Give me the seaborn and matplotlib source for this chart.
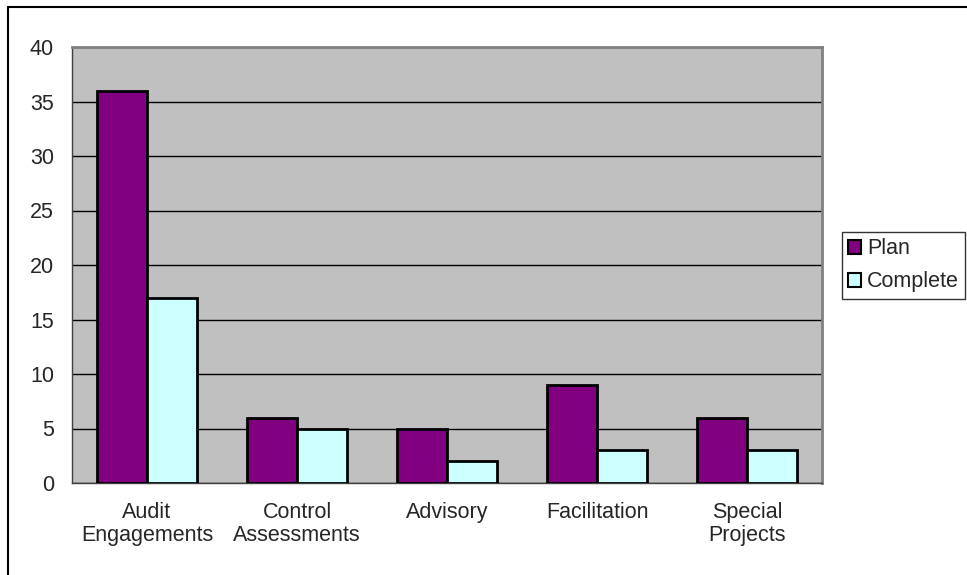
import pandas as pd
import numpy as np
import matplotlib
matplotlib.use("Agg")
import matplotlib.pyplot as plt
import seaborn as sns
from matplotlib.patches import Patch
from matplotlib.lines import Line2D

categories = ["Audit\nEngagements", "Control\nAssessments", "Advisory", "Facilitation", "Special\nProjects"]
plan = [36, 6, 5, 9, 6]
complete = [17, 5, 2, 3, 3]
series_names = ["Plan", "Complete"]
colors = {"Plan": "#800080", "Complete": "#CCFFFF"}

df = pd.DataFrame({
    "category": categories * 2,
    "series": ["Plan"] * len(plan) + ["Complete"] * len(complete),
    "value": plan + complete,
})

sns.set_style("white")
plt.rcParams["font.family"] = ["Liberation Sans", "DejaVu Sans"]
fs = 15.5

W, H = 967, 575
fig = plt.figure(figsize=(W / 100, H / 100), dpi=100)
ax = fig.add_axes([72 / W, (H - 483) / H, 750 / W, 436 / H])
ax.set_facecolor("#C0C0C0")

sns.barplot(data=df, x="category", y="value", hue="series", hue_order=series_names,
            palette=colors, saturation=1, width=0.667, gap=0,
            edgecolor="black", linewidth=2, ax=ax, legend=False, zorder=3)

ax.set_xlim(-0.5, 4.5)
ax.set_ylim(0, 40)
ax.set_yticks(np.arange(0, 41, 5))
ax.yaxis.grid(True, color="black", linewidth=1, zorder=0)
ax.set_axisbelow(True)
ax.set_xlabel("")
ax.set_ylabel("")

# tick marks between categories like a spreadsheet chart
ax.set_xticks(np.arange(-0.5, 5, 1), minor=True)
ax.tick_params(axis="x", which="major", length=0, pad=14, labelsize=fs)
ax.tick_params(axis="x", which="minor", length=5, width=1, color="#404040", direction="out")
ax.tick_params(axis="y", length=5, width=1, color="#404040", direction="out", pad=8, labelsize=fs)
for lbl in ax.get_xticklabels():
    lbl.set_linespacing(1.08)

for side in ["top", "right"]:
    ax.spines[side].set_color("#808080")
    ax.spines[side].set_linewidth(2)
ax.spines["left"].set_color("#404040")
ax.spines["bottom"].set_color("#404040")
ax.spines["left"].set_linewidth(1)
ax.spines["bottom"].set_linewidth(1)

handles = [Patch(facecolor=colors[s], edgecolor="black", linewidth=1.5, label=s) for s in series_names]
leg = fig.legend(handles=handles, loc="upper left", bbox_to_anchor=(842 / W, 1 - 232 / H),
                 frameon=True, fancybox=False, fontsize=fs, handlelength=0.6, handleheight=0.6,
                 handletextpad=0.25, borderpad=0.3, labelspacing=0.55, borderaxespad=0)
leg.get_frame().set_edgecolor("black")
leg.get_frame().set_linewidth(1)

# outer chart border
fig.add_artist(Line2D([8 / W, 8 / W], [0, 1 - 7 / H], color="black", linewidth=1.5, transform=fig.transFigure))
fig.add_artist(Line2D([8 / W, 1], [1 - 7 / H, 1 - 7 / H], color="black", linewidth=1.5, transform=fig.transFigure))

fig.savefig("out.png", dpi=100)
